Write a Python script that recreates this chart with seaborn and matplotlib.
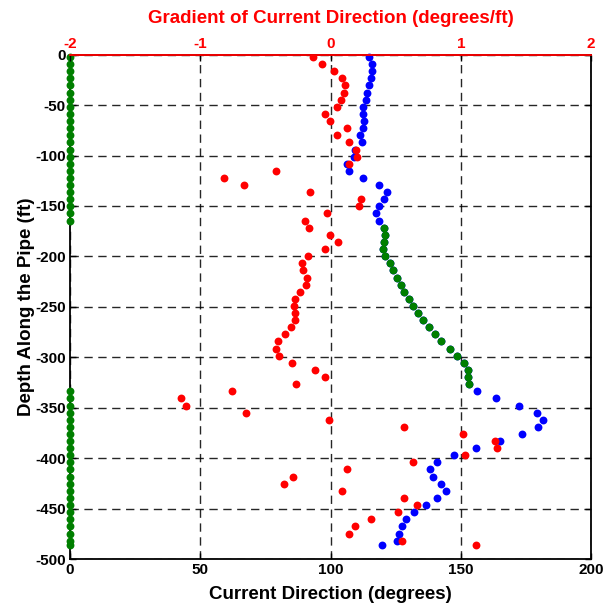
import matplotlib
matplotlib.use("Agg")
import matplotlib.pyplot as plt
import seaborn as sns
import numpy as np
import pandas as pd

# ---------------- data ----------------
depth_ft = [2.3, 9.4, 16.4, 23.5, 30.5, 37.6, 44.6, 51.7, 58.7, 65.8,
            72.8, 79.9, 86.9, 94.0, 101.0, 108.1, 115.1, 122.2, 129.2, 136.3,
            143.3, 150.4, 157.4, 164.5, 171.5, 178.6, 185.6, 192.7, 199.7, 206.8,
            213.8, 220.9, 227.9, 235.0, 242.0, 249.1, 256.1, 263.2, 270.2, 277.3,
            284.3, 291.4, 298.4, 305.5, 312.5, 319.6, 326.6, 333.7, 340.7, 347.8,
            354.8, 361.9, 368.9, 376.0, 383.0, 390.1, 397.1, 404.2, 411.2, 418.3,
            425.3, 432.4, 439.4, 446.5, 453.5, 460.6, 467.6, 474.7, 481.7, 486.5]

current_direction = [114.8, 115.8, 115.8, 115.4, 114.9, 114.1, 113.6, 112.6, 112.6, 113.0,
                     112.6, 111.3, 112.1, 109.4, 109.0, 106.2, 107.0, 112.6, 118.6, 121.8,
                     120.7, 118.6, 117.6, 118.6, 120.5, 120.8, 120.5, 120.0, 120.8, 122.7,
                     124.1, 125.4, 126.9, 128.2, 130.1, 131.8, 133.7, 135.5, 137.9, 140.2,
                     142.5, 145.7, 148.6, 151.2, 152.8, 152.7, 153.0, 156.2, 163.7, 172.4,
                     179.3, 181.7, 179.8, 173.6, 165.2, 155.8, 147.4, 141.0, 138.3, 139.2,
                     142.4, 144.3, 141.0, 136.5, 131.9, 129.1, 127.3, 126.3, 125.6, 119.9]

selected_direction = ([0.0] * 24 +
                      [120.5, 120.8, 120.5, 120.0, 120.8, 122.7, 124.1, 125.4, 126.9, 128.2,
                       130.1, 131.8, 133.7, 135.5, 137.9, 140.2, 142.5, 145.7, 148.6, 151.2,
                       152.8, 152.7, 153.0] +
                      [0.0] * 23)

gradient = [-0.137, -0.068, 0.029, 0.086, 0.114, 0.104, 0.078, 0.050, -0.042, -0.005,
            0.130, 0.049, 0.141, 0.195, 0.204, 0.141, -0.421, -0.818, -0.662, -0.155,
            0.232, 0.222, -0.025, -0.198, -0.163, -0.006, 0.058, -0.042, -0.170, -0.219,
            -0.209, -0.180, -0.188, -0.234, -0.270, -0.283, -0.273, -0.273, -0.301, -0.347,
            -0.403, -0.421, -0.393, -0.292, -0.117, -0.045, -0.265, -0.754, -1.148, -1.112,
            -0.651, -0.015, 0.564, 1.016, 1.263, 1.275, 1.035, 0.631, 0.124, -0.290,
            -0.355, 0.086, 0.564, 0.664, 0.518, 0.313, 0.188, 0.140, 0.547, 1.117]

x_ticks = [0, 50, 100, 150, 200]
y_ticks = [0, -50, -100, -150, -200, -250, -300, -350, -400, -450, -500]
top_ticks = [-2, -1, 0, 1, 2]

df = pd.DataFrame({
    "depth": [-d for d in depth_ft],
    "direction": current_direction,
    "selected": selected_direction,
    "gradient": gradient,
})

# ---------------- style ----------------
sns.set_style("ticks")
plt.rcParams["font.family"] = ["Liberation Sans", "DejaVu Sans"]
plt.rcParams["font.weight"] = "bold"
plt.rcParams["text.color"] = "black"
plt.rcParams["axes.labelcolor"] = "black"
plt.rcParams["xtick.color"] = "black"
plt.rcParams["ytick.color"] = "black"

fig = plt.figure(figsize=(6.04, 6.05), dpi=100)
ax = fig.add_axes([0.1159, 0.076, 0.8626, 0.8336])

ms = 32
sns.scatterplot(data=df, x="direction", y="depth", ax=ax, color="#0000ff",
                s=ms, linewidth=0, zorder=3)
sns.scatterplot(data=df, x="selected", y="depth", ax=ax, color="#007f00",
                s=ms, linewidth=0, zorder=4)
for c in ax.collections:
    c.set_clip_on(False)

ax.set_xlim(0, 200)
ax.set_ylim(-500, 0)
ax.set_xticks(x_ticks)
ax.set_yticks(y_ticks)
ax.set_xticklabels([str(t) for t in x_ticks], fontsize=11, fontweight="bold")
ax.set_yticklabels([str(t) for t in y_ticks], fontsize=11, fontweight="bold")
ax.grid(True, color="black", linestyle=(0, (6, 4)), linewidth=1.0, alpha=0.85)
ax.set_axisbelow(True)
ax.tick_params(direction="in", length=4, width=1, right=True, top=False,
               pad=3, colors="black", labelcolor="black")
for s in ax.spines.values():
    s.set_linewidth(1.3)
    s.set_color("black")
ax.set_xlabel("Current Direction (degrees)", fontsize=13.5, fontweight="bold",
              labelpad=6, color="black")
ax.set_ylabel("Depth Along the Pipe (ft)", fontsize=13.5, fontweight="bold",
              labelpad=0, color="black")

ax2 = ax.twiny()
sns.scatterplot(data=df, x="gradient", y="depth", ax=ax2, color="#ff0000",
                s=ms, linewidth=0, zorder=5)
ax2.set_xlim(-2, 2)
ax2.set_ylim(-500, 0)
ax2.set_xticks(top_ticks)
ax2.set_xticklabels([str(t) for t in top_ticks], fontsize=11, fontweight="bold",
                    color="#ff0000")
ax2.tick_params(axis="x", direction="in", length=4, width=1, pad=3, colors="black",
                labelcolor="#ff0000")
ax2.spines["top"].set_color("#ff0000")
ax2.spines["top"].set_linewidth(1.3)
for k in ["left", "right", "bottom"]:
    ax2.spines[k].set_visible(False)
ax2.set_xlabel("Gradient of Current Direction (degrees/ft)", fontsize=13.5,
               fontweight="bold", color="#ff0000", labelpad=10)
ax2.set_ylabel("")

fig.savefig("out.png", dpi=100)
